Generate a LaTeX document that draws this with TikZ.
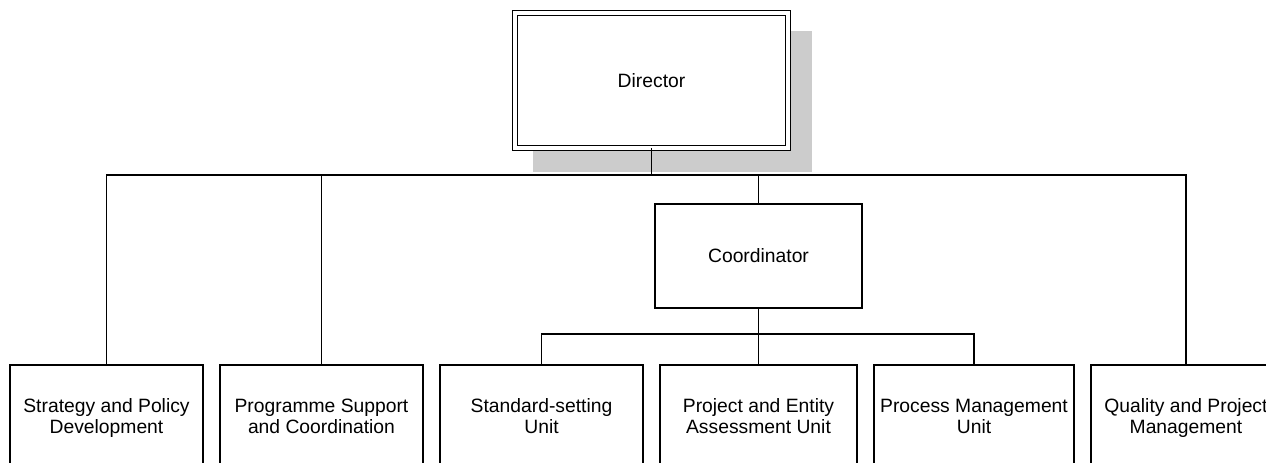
\documentclass[tikz,border=0pt]{standalone}
\usepackage{fontspec}
\setmainfont{Liberation Sans}
\usepackage{xcolor}
\usepackage{tikz}
\usetikzlibrary{positioning,backgrounds}
\definecolor{ink}{HTML}{000000}
\definecolor{shadegray}{HTML}{CCCCCC}
\tikzset{
  unit/.style={draw=ink,line width=1.5pt,align=center,inner sep=2pt,outer sep=0pt,
               minimum height=104pt,fill=white},
  leaf/.style={unit,minimum height=109pt,
               execute at begin node=\strut,execute at end node=\strut},
  head/.style={unit,double=white,double distance=3.4pt,minimum width=273pt,minimum height=135pt},
  link/.style={draw=ink,line width=1.5pt},
}

\begin{document}
\begin{tikzpicture}[x=1pt,y=-1pt,font=\fontsize{19.3}{21}\selectfont,node distance=17pt]

\useasboundingbox (0,0) rectangle (1266,463);
\clip (0,0) rectangle (1266,463);

% ---- top of the chart
\node[head] (dir) at (651.5,80.5) {Director};
\node[unit,minimum width=207pt] (crd) at (758.5,256) {Coordinator};

% ---- bottom row, left to right
\node[leaf,minimum width=193pt] (spd) at (106.5,419.5) {Strategy and Policy\\Development};
\node[leaf,minimum width=203pt,right=of spd] (psc) {Programme Support\\and Coordination};
\node[leaf,minimum width=203pt,right=of psc] (ssu) {Standard-setting\\Unit};
\node[leaf,minimum width=197pt,right=of ssu] (pea) {Project and Entity\\Assessment Unit};
\node[leaf,minimum width=200pt,right=of pea] (pmu) {Process Management\\Unit};
\node[leaf,minimum width=190pt,right=of pmu] (qpm) {Quality and Project\\Management};

% ---- shadow behind the director box
\begin{scope}[on background layer]
  \fill[shadegray] ([shift={(18,18)}]dir.north west) rectangle ([shift={(24,24)}]dir.south east);
\end{scope}

% ---- lines from the director
\coordinate (hibar) at (0,175);
\draw[link] (dir.south) -- (dir.south |- hibar);
\draw[link] (spd.north) -- (spd.north |- hibar) -- (qpm.north |- hibar) -- (qpm.north);
\draw[link] (psc.north) -- (psc.north |- hibar);
\draw[link] (crd.north) -- (crd.north |- hibar);

% ---- lines from the coordinator
\coordinate (lobar) at (0,334);
\draw[link] (crd.south) -- (pea.north);
\draw[link] (ssu.north) -- (ssu.north |- lobar) -- (pmu.north |- lobar) -- (pmu.north);

\end{tikzpicture}
\end{document}
